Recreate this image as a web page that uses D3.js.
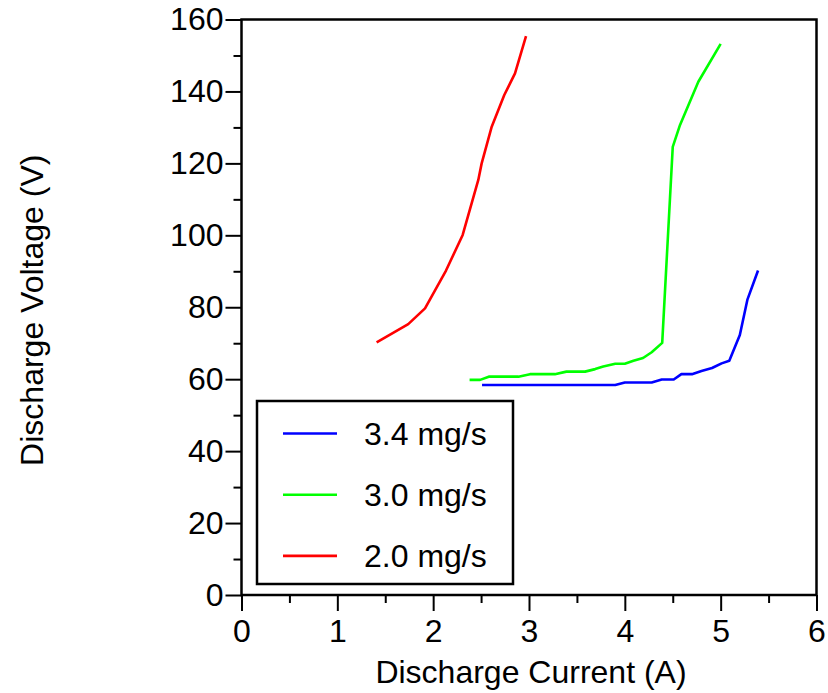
<!DOCTYPE html>
<html>
<head>
<meta charset="utf-8">
<script src="https://cdn.jsdelivr.net/npm/d3@7"></script>
<style>
  html, body { margin: 0; padding: 0; background: #fff; }
  svg text { font-family: "Liberation Sans", Arial, Helvetica, sans-serif; fill: #000; }
</style>
</head>
<body>
<svg id="chart" width="828" height="693"></svg>
<script>
// Discharge current (A) and voltage (V) for each anode mass flow rate
const current34 = [2.51, 3.90, 4.00, 4.28, 4.385, 4.51, 4.59, 4.70, 4.80, 4.91, 5.01, 5.09, 5.20, 5.28, 5.39];
const voltage34 = [58.4, 58.4, 59.1, 59.1, 59.9, 59.9, 61.4, 61.4, 62.3, 63.1, 64.4, 65.1, 72.3, 82.2, 90.2];

const current30 = [2.38, 2.49, 2.58, 2.89, 3.01, 3.27, 3.39, 3.585, 3.69, 3.775, 3.90, 4.00, 4.09, 4.19, 4.28, 4.39, 4.50, 4.576, 4.767, 5.00];
const voltage30 = [59.8, 59.8, 60.7, 60.7, 61.4, 61.4, 62.1, 62.1, 62.8, 63.5, 64.3, 64.3, 65.1, 65.9, 67.5, 70.1, 124.6, 130.7, 142.7, 153.2];

const current20 = [1.41, 1.74, 1.915, 2.134, 2.308, 2.471, 2.506, 2.611, 2.742, 2.854, 2.969];
const voltage20 = [70.2, 75.3, 79.7, 90.2, 100.1, 115.4, 120.0, 130.2, 139.0, 145.0, 155.4];

const seriesNames = ["3.4 mg/s", "3.0 mg/s", "2.0 mg/s"];
const seriesColors = ["#0000ff", "#00ff00", "#ff0000"];

const xTicks = [0, 1, 2, 3, 4, 5, 6];
const yTicks = [0, 20, 40, 60, 80, 100, 120, 140, 160];

const series = [
  { name: seriesNames[0], color: seriesColors[0], pts: current34.map((c, i) => [c, voltage34[i]]) },
  { name: seriesNames[1], color: seriesColors[1], pts: current30.map((c, i) => [c, voltage30[i]]) },
  { name: seriesNames[2], color: seriesColors[2], pts: current20.map((c, i) => [c, voltage20[i]]) }
];

const svg = d3.select("#chart");
const plot = { left: 241.5, right: 816.5, top: 19.5, bottom: 595 };

const x = d3.scaleLinear().domain([0, 6]).range([plot.left, plot.right]);
const y = d3.scaleLinear().domain([0, 160]).range([plot.bottom, plot.top]);

const fontSize = 32;

// Minor ticks
const xMinor = d3.range(0.5, 6, 1);
const yMinor = d3.range(10, 160, 20);

svg.append("g")
  .attr("transform", `translate(0,${plot.bottom})`)
  .call(d3.axisBottom(x).tickValues(xMinor).tickSize(8).tickFormat(""))
  .call(g => g.select(".domain").remove())
  .call(g => g.selectAll("line").attr("stroke-width", 2));

svg.append("g")
  .attr("transform", `translate(${plot.left},0)`)
  .call(d3.axisLeft(y).tickValues(yMinor).tickSize(8).tickFormat(""))
  .call(g => g.select(".domain").remove())
  .call(g => g.selectAll("line").attr("stroke-width", 2));

// Major ticks and labels
const xAxis = svg.append("g")
  .attr("transform", `translate(0,${plot.bottom})`)
  .call(d3.axisBottom(x).tickValues(xTicks).tickSize(16).tickPadding(8).tickFormat(d3.format("d")));
xAxis.select(".domain").remove();
xAxis.selectAll("line").attr("stroke-width", 2);
xAxis.selectAll("text").attr("font-size", fontSize).attr("font-family", null);

const yAxis = svg.append("g")
  .attr("transform", `translate(${plot.left},0)`)
  .call(d3.axisLeft(y).tickValues(yTicks).tickSize(16).tickPadding(2).tickFormat(d3.format("d")));
yAxis.select(".domain").remove();
yAxis.selectAll("line").attr("stroke-width", 2);
yAxis.selectAll("text").attr("font-size", fontSize).attr("font-family", null);

// Frame
svg.append("rect")
  .attr("x", plot.left).attr("y", plot.top)
  .attr("width", plot.right - plot.left).attr("height", plot.bottom - plot.top)
  .attr("fill", "none").attr("stroke", "#000").attr("stroke-width", 2.5);

// Data lines
const line = d3.line().x(d => x(d[0])).y(d => y(d[1]));
svg.append("g").selectAll("path")
  .data(series)
  .join("path")
  .attr("d", d => line(d.pts))
  .attr("fill", "none")
  .attr("stroke", d => d.color)
  .attr("stroke-width", 2.6)
  .attr("stroke-linejoin", "round");

// Axis titles
svg.append("text")
  .attr("x", (plot.left + plot.right) / 2 + 2)
  .attr("y", 683)
  .attr("text-anchor", "middle")
  .attr("font-size", fontSize)
  .text("Discharge Current (A)");

svg.append("text")
  .attr("transform", `translate(43,${(plot.top + plot.bottom) / 2 + 3}) rotate(-90)`)
  .attr("text-anchor", "middle")
  .attr("font-size", fontSize)
  .text("Discharge Voltage (V)");

// Legend
const legend = svg.append("g");
legend.append("rect")
  .attr("x", 257).attr("y", 401)
  .attr("width", 256).attr("height", 183)
  .attr("fill", "#fff").attr("stroke", "#000").attr("stroke-width", 2.5);

const legendRows = legend.selectAll("g.row")
  .data(series)
  .join("g")
  .attr("class", "row")
  .attr("transform", (d, i) => `translate(0,${433.5 + i * 61.2})`);

legendRows.append("line")
  .attr("x1", 283).attr("x2", 337)
  .attr("stroke", d => d.color)
  .attr("stroke-width", 2.6);

legendRows.append("text")
  .attr("x", 364)
  .attr("dy", "0.35em")
  .attr("font-size", fontSize)
  .text(d => d.name);
</script>
</body>
</html>
